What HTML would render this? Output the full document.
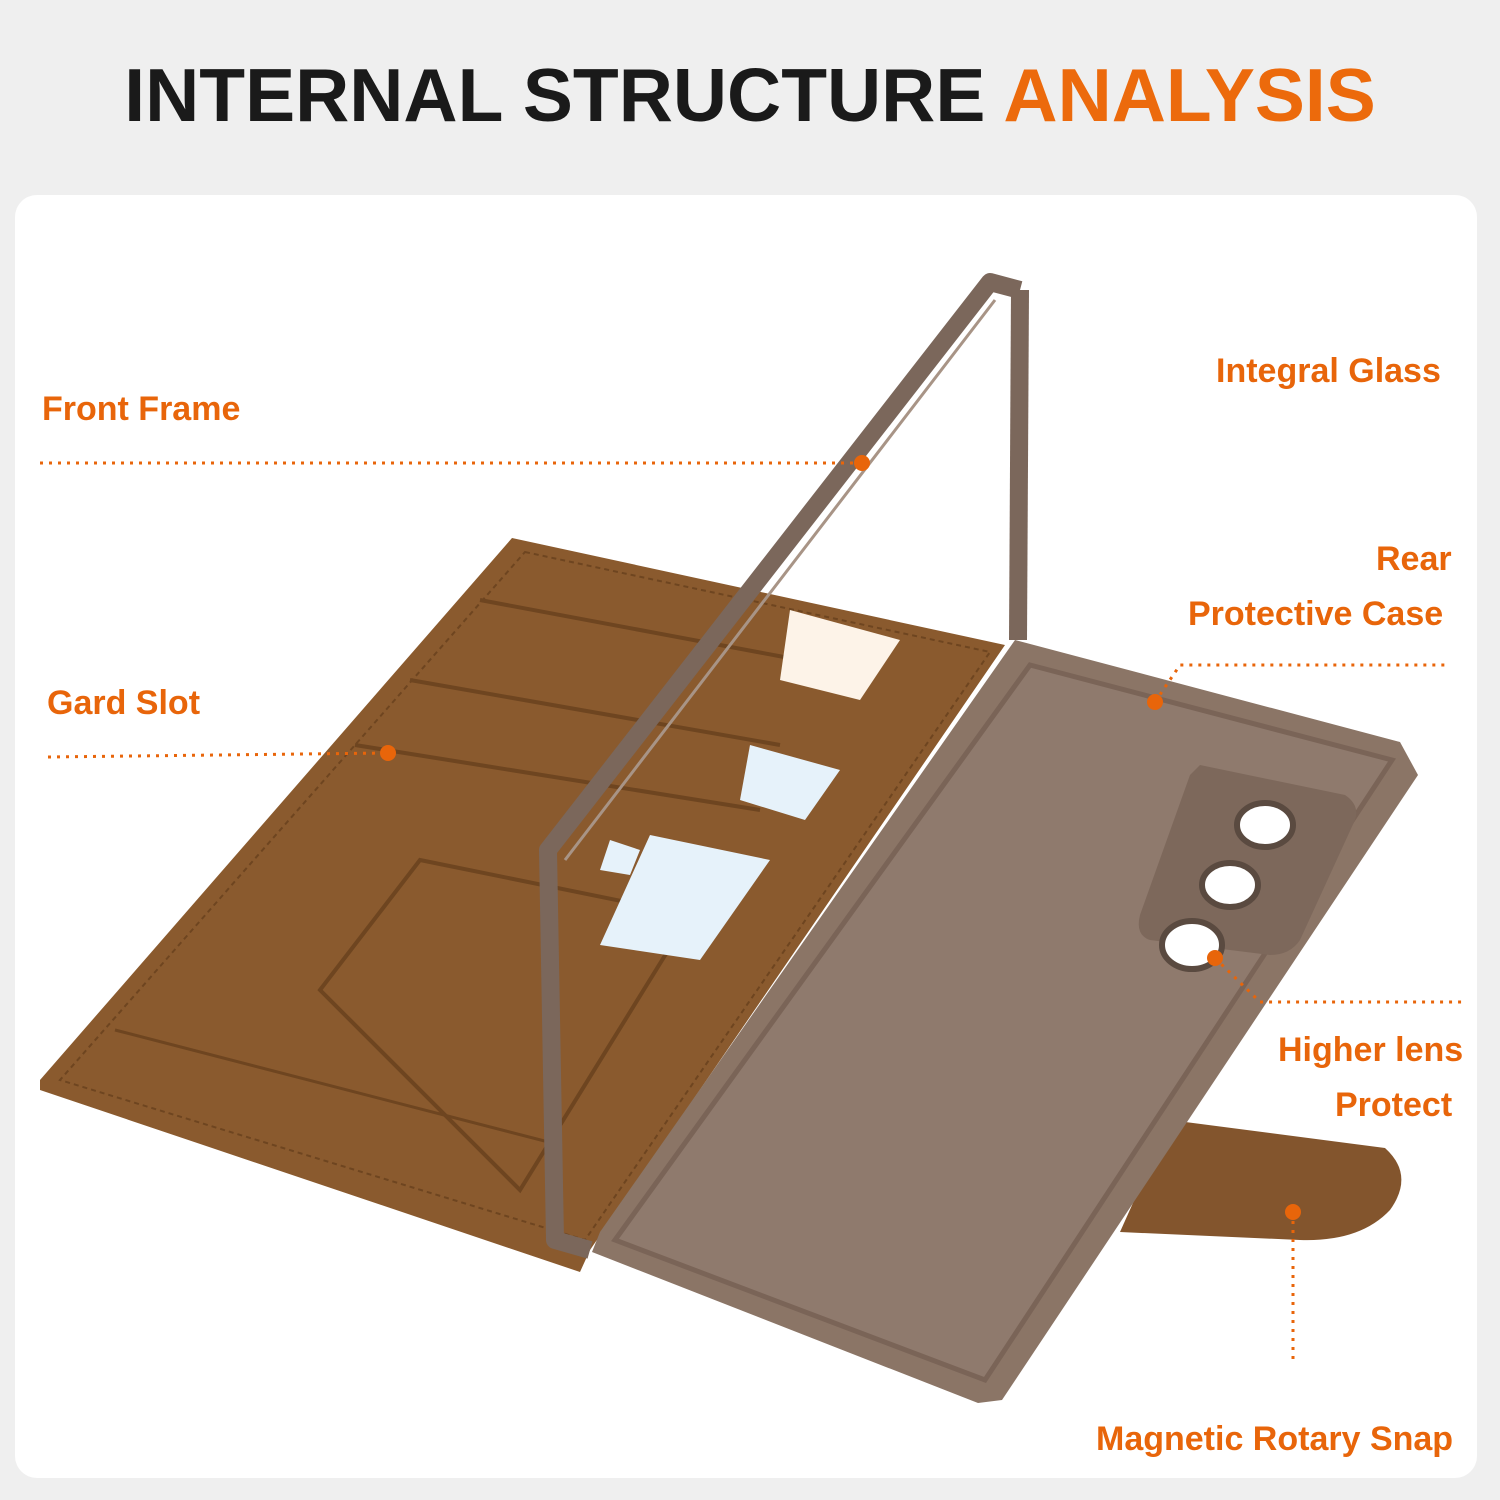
<!DOCTYPE html>
<html><head><meta charset="utf-8"><style>
body{margin:0;width:1500px;height:1500px;background:#efefef;overflow:hidden;font-family:"Liberation Sans",sans-serif}
.t{position:absolute;top:52px;left:0;width:1500px;text-align:center;font-size:75px;font-weight:bold;color:#1a1a1a}
.t span{color:#ec6a0c}
.panel{position:absolute;left:15px;top:195px;width:1462px;height:1283px;background:#fff;border-radius:22px}
.l{position:absolute;color:#e8650a;font-size:34px;font-weight:bold;white-space:nowrap}
</style></head><body>
<div class="t">INTERNAL STRUCTURE <span>ANALYSIS</span></div>
<div class="panel"></div>
<svg width="1500" height="1500" style="position:absolute;left:0;top:0">
<!-- wallet left panel -->
<polygon points="512,538 1005,645 590,1250 580,1272 40,1090 40,1080" fill="#8a5a2e"/>
<polygon points="525,552 990,652 585,1240 60,1080" fill="none" stroke="#6e4520" stroke-width="2" stroke-dasharray="5,4"/>
<line x1="480" y1="600" x2="800" y2="660" stroke="#6e4520" stroke-width="4"/>
<line x1="410" y1="680" x2="780" y2="745" stroke="#6e4520" stroke-width="4"/>
<line x1="355" y1="745" x2="760" y2="810" stroke="#6e4520" stroke-width="4"/>
<polygon points="420,860 690,915 520,1190 320,990" fill="none" stroke="#6e4520" stroke-width="4"/>
<line x1="115" y1="1030" x2="560" y2="1145" stroke="#6e4520" stroke-width="3"/>
<!-- glass reflections -->
<polygon points="790,610 900,640 860,700 780,680" fill="#fdf3e8"/>
<polygon points="750,745 840,770 805,820 740,800" fill="#e6f2fa"/>
<polygon points="650,835 770,860 700,960 600,945" fill="#e6f2fa"/>
<polygon points="610,840 640,850 630,875 600,870" fill="#e6f2fa"/>
<!-- strap -->
<path d="M1170,1120 L1385,1148 Q1415,1175 1390,1210 Q1360,1242 1300,1240 L1120,1232 Z" fill="#83552d"/>
<!-- case -->
<polygon points="1015,640 1400,742 1418,775 1002,1400 978,1403 592,1252 600,1232" fill="#8b7566"/>
<polygon points="1030,665 1392,760 985,1380 615,1240" fill="#8f7a6d" stroke="#7a6457" stroke-width="5"/>
<path d="M1200,765 L1345,795 Q1360,805 1355,820 L1300,940 Q1290,955 1270,955 L1150,940 Q1135,935 1140,915 L1190,775 Z" fill="#7d685b"/>
<ellipse cx="1265" cy="825" rx="28" ry="22" fill="#fff" stroke="#5a4a40" stroke-width="6"/>
<ellipse cx="1230" cy="885" rx="28" ry="22" fill="#fff" stroke="#5a4a40" stroke-width="6"/>
<ellipse cx="1192" cy="945" rx="30" ry="24" fill="#fff" stroke="#5a4a40" stroke-width="6"/>
<!-- frame -->
<polyline points="1020,290 990,282 548,850 555,1240 590,1250" fill="none" stroke="#7b675b" stroke-width="18" stroke-linejoin="round"/>
<polyline points="1020,290 1018,640" fill="none" stroke="#7b675b" stroke-width="18"/>
<line x1="995" y1="300" x2="565" y2="860" stroke="#a89486" stroke-width="3"/>
<!-- connectors -->
<g stroke="#e8650a" stroke-width="3" stroke-dasharray="3,6" fill="none">
<line x1="40" y1="463" x2="862" y2="463"/>
<line x1="48" y1="757" x2="388" y2="753"/>
<polyline points="1155,702 1180,665 1448,665"/>
<polyline points="1215,958 1260,1002 1462,1002"/>
<line x1="1293" y1="1212" x2="1293" y2="1360"/>
</g>
<g fill="#e8650a"><circle cx="862" cy="463" r="8"/><circle cx="388" cy="753" r="8"/><circle cx="1155" cy="702" r="8"/><circle cx="1215" cy="958" r="8"/><circle cx="1293" cy="1212" r="8"/></g>
</svg>
<div class="l" style="left:42px;top:390px">Front Frame</div>
<div class="l" style="left:1216px;top:352px">Integral Glass</div>
<div class="l" style="left:1376px;top:540px">Rear</div>
<div class="l" style="left:1188px;top:595px">Protective Case</div>
<div class="l" style="left:47px;top:684px">Gard Slot</div>
<div class="l" style="left:1278px;top:1031px">Higher lens</div>
<div class="l" style="left:1335px;top:1086px">Protect</div>
<div class="l" style="left:1096px;top:1420px">Magnetic Rotary Snap</div>
</body></html>
